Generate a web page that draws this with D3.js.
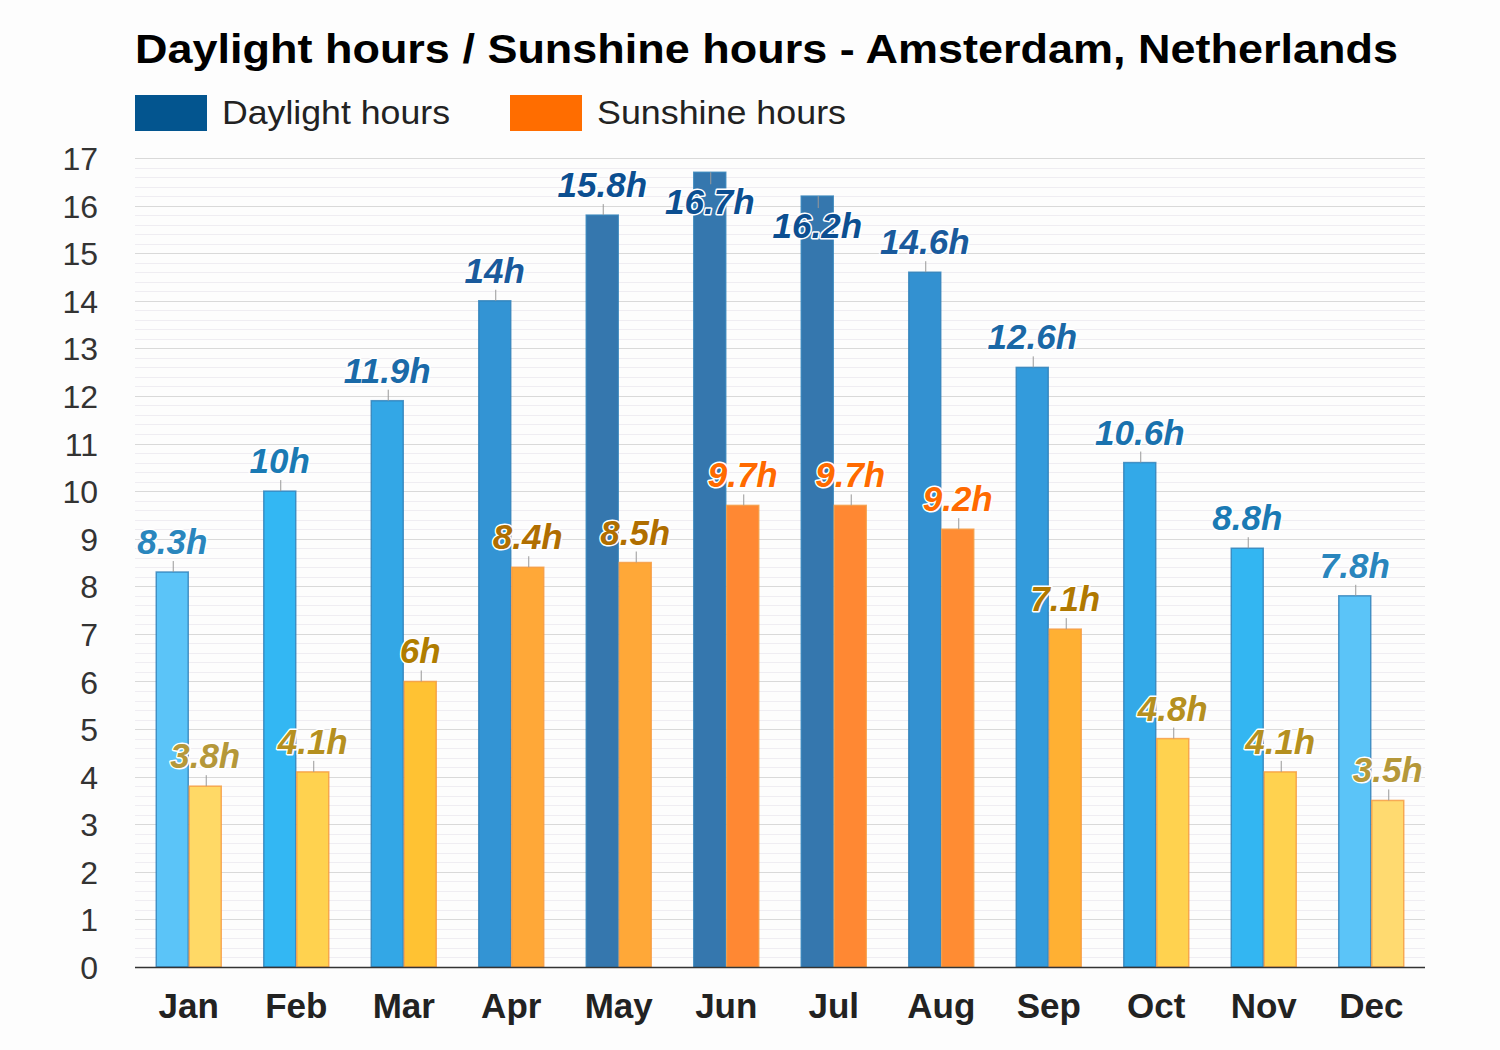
<!DOCTYPE html>
<html>
<head>
<meta charset="utf-8">
<script src="https://cdn.jsdelivr.net/npm/d3@7"></script>
<style>
  html, body { margin: 0; padding: 0; background: #fdfdfd; }
  svg { display: block; font-family: "Liberation Sans", Arial, sans-serif; }
</style>
</head>
<body>
<svg id="chart" width="1500" height="1050"></svg>
<script>
const months = ["Jan","Feb","Mar","Apr","May","Jun","Jul","Aug","Sep","Oct","Nov","Dec"];
const daylight = [8.3, 10, 11.9, 14, 15.8, 16.7, 16.2, 14.6, 12.6, 10.6, 8.8, 7.8];
const sunshine = [3.8, 4.1, 6, 8.4, 8.5, 9.7, 9.7, 9.2, 7.1, 4.8, 4.1, 3.5];
const yTicks = [0,1,2,3,4,5,6,7,8,9,10,11,12,13,14,15,16,17];
const seriesNames = ["Daylight hours", "Sunshine hours"];

const daylightFill = ["#5bc4f8","#33b7f3","#33a7e6","#3394d4","#3577ae","#3577ae","#3577ae","#3391d1","#339bdc","#33a9e8","#33b6f2","#5bc4f8"];
const daylightLabel = ["#2a86bd","#1a7ab4","#1a6aa8","#1a5a9c","#0c4f91","#0c4f91","#0c4f91","#1a5a9c","#1a68a6","#1a72ae","#1a7ab4","#2a86bd"];
const sunshineFill = ["#ffd966","#ffd24f","#ffc233","#ffa838","#ffa838","#ff8833","#ff8833","#ff8c33","#ffb033","#ffd24f","#ffd24f","#ffda70"];
const sunshineLabel = ["#b5983a","#b59020","#b07d00","#b06e00","#b06e00","#ff6a00","#ff6a00","#ff6a00","#b07800","#b59020","#b59020","#b5983a"];
const legendColors = ["#03558f", "#ff6d00"];

const svg = d3.select("#chart");
const pLeft = 135, pRight = 1425, pTop = 158, pBottom = 967;

const x0 = d3.scaleBand().domain(months).range([pLeft, pRight]).paddingInner(0.386).paddingOuter(0.193);
const x1 = d3.scaleBand().domain(seriesNames).range([0, x0.bandwidth()]);
const y = d3.scaleLinear().domain([0, 17]).range([pBottom, pTop]);

// minor gridlines
const minor = d3.range(0, 17.01, 0.2).filter(v => Math.abs(v - Math.round(v)) > 0.01);
svg.append("g").selectAll("line").data(minor).join("line")
  .attr("x1", pLeft).attr("x2", pRight)
  .attr("y1", d => Math.round(y(d)) + 0.5).attr("y2", d => Math.round(y(d)) + 0.5)
  .attr("stroke", "#efedf2").attr("stroke-width", 1);
// major gridlines
svg.append("g").selectAll("line").data(yTicks.slice(1)).join("line")
  .attr("x1", pLeft).attr("x2", pRight)
  .attr("y1", d => Math.round(y(d)) + 0.5).attr("y2", d => Math.round(y(d)) + 0.5)
  .attr("stroke", "#d9d9d9").attr("stroke-width", 1);

// y axis
const yAxis = d3.axisLeft(y).tickValues(yTicks).tickSize(0).tickPadding(0).tickFormat(d3.format("d"));
const ya = svg.append("g").attr("transform", `translate(${98},0)`).call(yAxis);
ya.select(".domain").remove();
ya.selectAll("text").attr("font-size", 32).attr("fill", "#333").attr("font-family", "Liberation Sans, Arial, sans-serif").attr("dy", "0.36em");

// x axis
const xAxis = d3.axisBottom(x0).tickSize(0).tickPadding(0);
const xa = svg.append("g").attr("transform", `translate(0,${pBottom})`).call(xAxis);
xa.select(".domain").remove();
xa.selectAll("text").attr("font-size", 35).attr("font-weight", "bold").attr("fill", "#222")
  .attr("font-family", "Liberation Sans, Arial, sans-serif").attr("y", 51).attr("dy", 0);

// bars
const groups = svg.append("g").selectAll("g").data(months).join("g")
  .attr("transform", d => `translate(${x0(d)},0)`);

function drawSeries(vals, fills, name, stroke) {
  const bw = x1.bandwidth();
  groups.append("rect")
    .attr("x", x1(name) + 0.5)
    .attr("width", bw - 1)
    .attr("y", (d, i) => y(vals[i]))
    .attr("height", (d, i) => pBottom - y(vals[i]))
    .attr("fill", (d, i) => fills[i])
    .attr("stroke", stroke).attr("stroke-width", 1.5).attr("stroke-opacity", 0.8);
}
function drawLabels(vals, labelColors, name) {
  const bw = x1.bandwidth();
  groups.each(function(d, i) {
    const g = d3.select(this);
    const cx = x1(name) + bw / 2;
    const yt = y(vals[i]);
    const inside = yt - 44 < pTop;
    const base = inside ? yt + 42 : yt - 18;
    g.append("line")
      .attr("x1", Math.round(cx) + 0.5).attr("x2", Math.round(cx) + 0.5)
      .attr("y1", inside ? yt + 12 : yt - 11).attr("y2", yt)
      .attr("stroke", "#999").attr("stroke-width", 1);
    g.append("text")
      .attr("x", cx).attr("y", base)
      .attr("text-anchor", "middle")
      .attr("font-size", 35).attr("font-weight", "bold").attr("font-style", "italic")
      .attr("fill", labelColors[i])
      .attr("stroke", "#ffffff").attr("stroke-width", 3).attr("paint-order", "stroke")
      .attr("stroke-linejoin", "round")
      .text(vals[i] + "h");
  });
}
drawSeries(daylight, daylightFill, "Daylight hours", "#2f7fb8");
drawSeries(sunshine, sunshineFill, "Sunshine hours", "#f59a40");
drawLabels(daylight, daylightLabel, "Daylight hours");
drawLabels(sunshine, sunshineLabel, "Sunshine hours");

// baseline
svg.append("line").attr("x1", pLeft).attr("x2", pRight)
  .attr("y1", pBottom + 0.5).attr("y2", pBottom + 0.5)
  .attr("stroke", "#333").attr("stroke-width", 1.5);

// title
svg.append("text").attr("x", pLeft).attr("y", 63)
  .attr("font-size", 40).attr("font-weight", "bold").attr("fill", "#000")
  .attr("textLength", 1263).attr("lengthAdjust", "spacingAndGlyphs")
  .text("Daylight hours / Sunshine hours - Amsterdam, Netherlands");

// legend
const legendX = [135, 510];
const legendTextLen = [228, 249];
seriesNames.forEach((n, i) => {
  svg.append("rect").attr("x", legendX[i]).attr("y", 95).attr("width", 72).attr("height", 36)
    .attr("fill", legendColors[i]);
  svg.append("text").attr("x", legendX[i] + 87).attr("y", 124)
    .attr("font-size", 34).attr("fill", "#222")
    .attr("textLength", legendTextLen[i]).attr("lengthAdjust", "spacingAndGlyphs")
    .text(n);
});
</script>
</body>
</html>
